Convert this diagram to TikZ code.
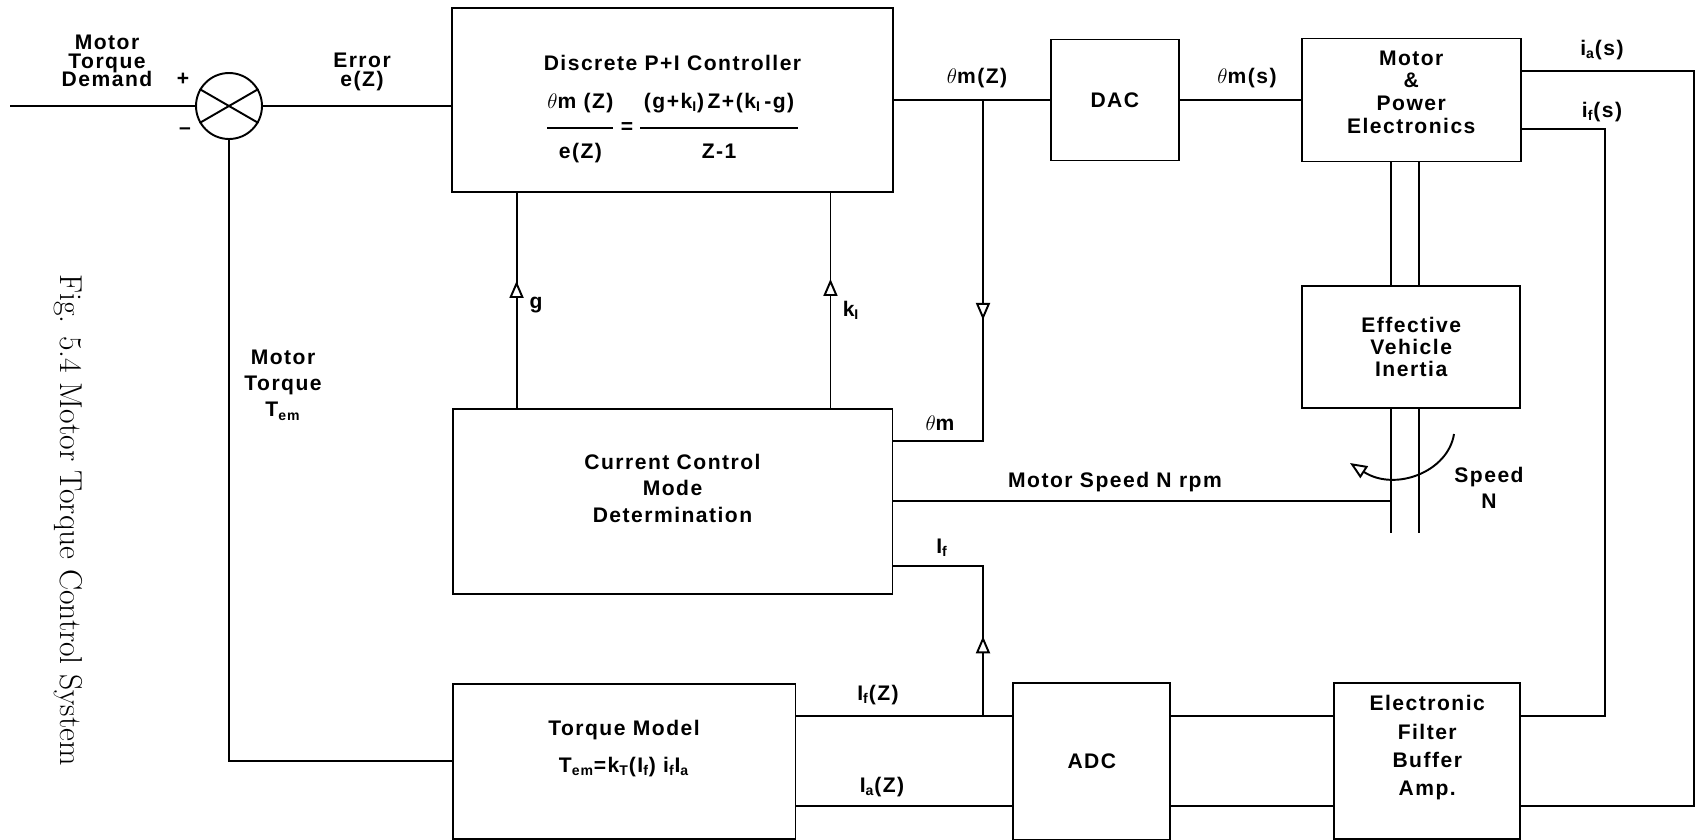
\documentclass[tikz,border=0pt]{standalone}
\usepackage{amsmath}
\usepackage{fontspec}
\setsansfont{Liberation Sans}[LetterSpace=7.0]
\usetikzlibrary{arrows.meta, positioning, decorations.markings}

\newcommand{\blockfont}{\fontsize{12}{15}\selectfont\sffamily\bfseries}
\newcommand{\fracbar}[2]{\begin{tabular}{@{}c@{}}#1\\[6pt]\hline\rule{0pt}{17pt}#2\end{tabular}}
\setlength{\arrayrulewidth}{1pt}

\begin{document}
\begin{tikzpicture}[
    x=0.02cm, y=-0.02cm,
    block/.style={rectangle, draw, line width=1.1pt, align=center, font=\blockfont, inner sep=2pt},
    sumjn/.style={circle, draw, line width=1.1pt, minimum size=1.32cm, inner sep=0pt},
    tag/.style={align=center, font=\blockfont, inner sep=1pt},
    sig/.style={line width=1.1pt},
    flowmark/.style={postaction={decorate}, decoration={markings,
        mark=at position #1 with {\arrow{Triangle[length=3.4mm, width=2.8mm, fill=white]}}}}
]
    \useasboundingbox (0,0) rectangle (1697,839);

    % Forward path
    \node (sum) [sumjn] at (229,106) {};
    \node (ctrl) [block, minimum width=8.82cm, minimum height=3.68cm] at (672.5,100)
        {\rule{0pt}{21pt}Discrete P+I Controller\\[10pt]
         \fracbar{\(\theta\)m (Z)}{e(Z)} = \fracbar{\,(g+k\textsubscript{I})\,Z+(k\textsubscript{I}\,-g)\,}{Z-1}};
    \node (dac) [block, right=3.12cm of ctrl, minimum width=2.56cm, minimum height=2.42cm] {DAC};
    \node (motor) [block, right=2.42cm of dac, minimum width=4.38cm, minimum height=2.46cm] {Motor\\[-2pt]\&\\[-2pt]Power\\[-2pt]Electronics\\[-6pt]\mbox{}};
    \node (inertia) [block, below=2.45cm of motor, minimum width=4.36cm, minimum height=2.44cm] {Effective\\[-2.5pt]Vehicle\\[-2.5pt]Inertia};

    % Mode logic and feedback blocks
    \node (cur) [block, below=4.3cm of ctrl, minimum width=8.8cm, minimum height=3.7cm] {Current Control\\Mode\\Determination\\[0pt]\mbox{}};
    \node (torque) [block, below=1.76cm of cur.south west, anchor=north west, minimum width=6.86cm, minimum height=3.1cm]
        {Torque Model\\[6pt]T\textsubscript{em}=k\textsubscript{T}(I\textsubscript{f}) i\textsubscript{f}I\textsubscript{a}\\[2pt]\mbox{}};
    \node (adc) [block, right=4.32cm of torque, minimum width=3.14cm, minimum height=3.14cm] {ADC};
    \node (filter) [block, right=3.24cm of adc, minimum width=3.72cm, minimum height=3.12cm] {Electronic\\[1pt]Filter\\[1pt]Buffer\\[1pt]Amp.\\[3pt]\mbox{}};

    % Free ends and branch points
    \coordinate (input) at (10,106);
    \coordinate (tapZ) at (983,100);
    \coordinate (tapF) at ([yshift=0.9cm]torque.east -| tapZ);
    \coordinate (ifdrop) at (1605,400);
    \coordinate (iadrop) at (1694,400);
    \coordinate (shaftL) at (1391,533);
    \coordinate (shaftR) at (1419,533);
    \coordinate (spinA) at (1454,434);
    \coordinate (spinB) at (1350,463);

    % Summing junction
    \draw [sig] (sum.30) -- (sum.210);
    \draw [sig] (sum.150) -- (sum.330);
    \draw [sig] (input) -- (sum.west);
    \draw [sig] (sum.east) -- (sum.east -| ctrl.west);

    % Forward signals
    \draw [sig] (ctrl.east) -- (dac.west);
    \draw [sig] (dac.east) -- (motor.west);
    \draw [sig, flowmark=4.4cm] (tapZ) |- ([yshift=-0.66cm]cur.north east);
    \draw [sig, flowmark=2.54cm] ([xshift=-3.12cm]cur.north) -- ([xshift=-3.12cm]ctrl.south);
    \draw [sig, flowmark=2.58cm] ([xshift=3.16cm]cur.north) -- ([xshift=3.16cm]ctrl.south);

    % Drive shaft
    \draw [sig] (motor.south -| shaftL) -- (inertia.north -| shaftL);
    \draw [sig] (motor.south -| shaftR) -- (inertia.north -| shaftR);
    \draw [sig] (inertia.south -| shaftL) -- (shaftL);
    \draw [sig] (inertia.south -| shaftR) -- (shaftR);
    \draw [sig] (cur.east) -- (cur.east -| shaftL);
    \draw [sig, -{Triangle[length=3.4mm, width=2.8mm, fill=white]}] (spinA) .. controls (1448,472) and (1395,492) .. (spinB);

    % Current sensing and torque feedback
    \draw [sig] (sum.south) |- (torque.west);
    \draw [sig] ([yshift=0.9cm]torque.east) -- ([yshift=0.9cm]adc.west);
    \draw [sig] ([yshift=-0.9cm]torque.east) -- ([yshift=-0.9cm]adc.west);
    \draw [sig] ([yshift=0.9cm]adc.east) -- ([yshift=0.9cm]filter.west);
    \draw [sig] ([yshift=-0.9cm]adc.east) -- ([yshift=-0.9cm]filter.west);
    \draw [sig, flowmark=1.6cm] (tapF) |- ([yshift=0.58cm]cur.south east);
    \draw [sig] ([yshift=0.9cm]filter.east) -| (ifdrop) |- ([yshift=-0.58cm]motor.east);
    \draw [sig] ([yshift=-0.9cm]filter.east) -| (iadrop) |- ([yshift=0.58cm]motor.east);

    % Labels
    \node (demand) [tag] at (107,61) {Motor\\[-4.5pt]Torque\\[-4.5pt]Demand};
    \node (plus) [tag] at (183,79) {+};
    \node (minus) [tag] at (185,131) {\textendash};
    \node (err) [tag] at (362,72) {Error\\[-4.5pt]e(Z)};
    \node (lblthz) [tag] at (977,78) {\(\theta\)m(Z)};
    \node (lblths) [tag] at (1247,78) {\(\theta\)m(s)};
    \node (lblias) [tag] at (1602,50) {i\textsubscript{a}(s)};
    \node (lblifs) [tag] at (1602,112) {i\textsubscript{f}(s)};
    \node (lblg) [tag] at (536,305) {g};
    \node (lblki) [tag] at (851,310) {k\textsubscript{I}};
    \node (lblthm) [tag] at (940,423) {\(\theta\)m};
    \node (lblspd) [tag] at (1115,482) {Motor Speed N rpm};
    \node (lblif) [tag] at (942,548) {I\textsubscript{f}};
    \node (lblifz) [tag] at (878,695) {I\textsubscript{f}(Z)};
    \node (lbliaz) [tag] at (882,787) {I\textsubscript{a}(Z)};
    \node (lbltem) [tag] at (283,385) {Motor\\Torque\\T\textsubscript{em}};
    \node (lblspeed) [tag] at (1489,488) {Speed\\N};

    \node (caption) [rotate=-90, font=\fontsize{18}{21}\selectfont] at (68,520) {Fig. 5.4 Motor Torque Control System};

\end{tikzpicture}
\end{document}
